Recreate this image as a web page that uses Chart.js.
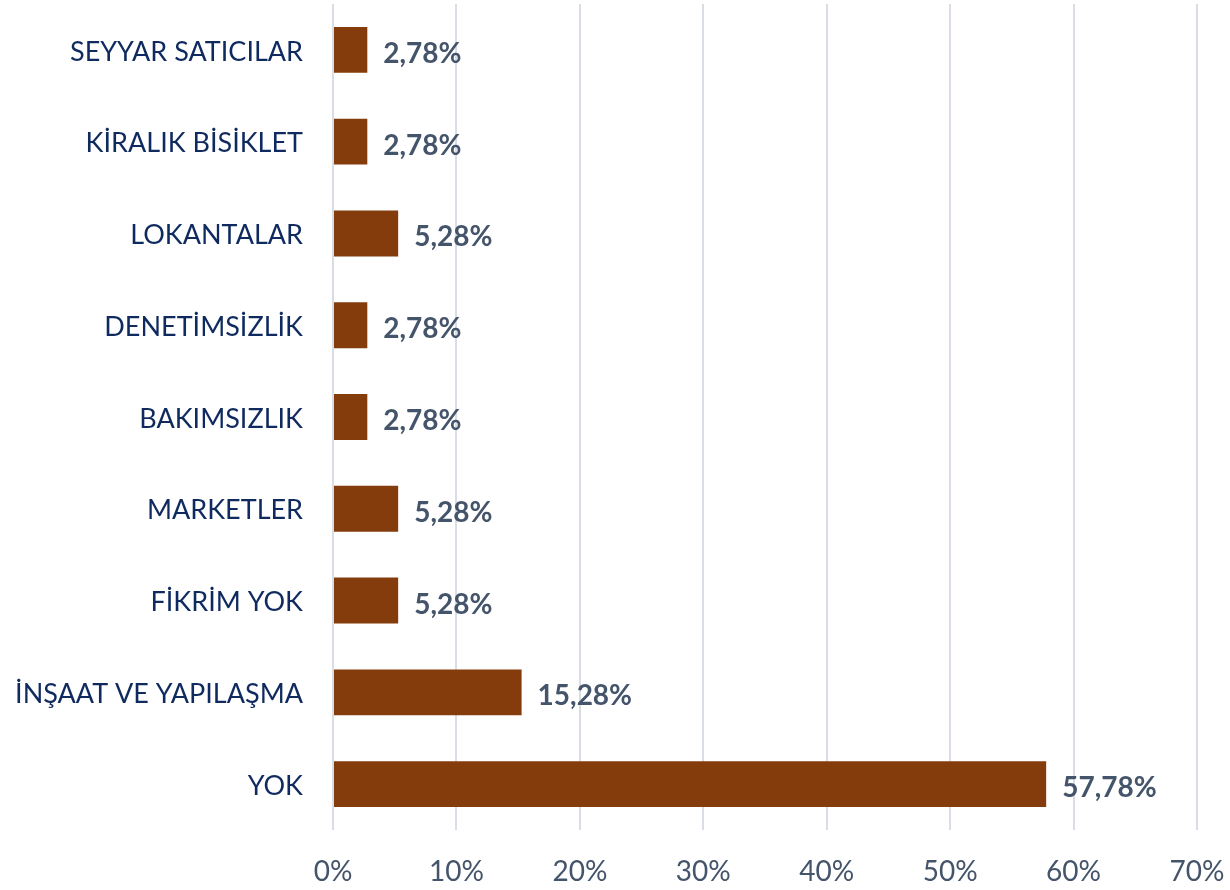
<!DOCTYPE html>
<html>
<head>
<meta charset="utf-8">
<script src="https://cdn.jsdelivr.net/npm/chart.js@4.4.1/dist/chart.umd.min.js"></script>
<style>
  html, body { margin: 0; padding: 0; background: #fff; }
  #wrap { width: 1230px; height: 890px; }
</style>
</head>
<body>
<div id="wrap"><canvas id="chart" width="1230" height="890"></canvas></div>
<script>
const categories = [
  'SEYYAR SATICILAR',
  'KİRALIK BİSİKLET',
  'LOKANTALAR',
  'DENETİMSİZLİK',
  'BAKIMSIZLIK',
  'MARKETLER',
  'FİKRİM YOK',
  'İNŞAAT VE YAPILAŞMA',
  'YOK'
];
const shares = [2.78, 2.78, 5.28, 2.78, 2.78, 5.28, 5.28, 15.28, 57.78];
const xTicks = [0, 10, 20, 30, 40, 50, 60, 70];

const fontFamily = 'Lato, "Open Sans", sans-serif';

// value labels drawn next to each bar
const barLabels = {
  id: 'barLabels',
  afterDatasetsDraw(chart) {
    const ctx = chart.ctx;
    const meta = chart.getDatasetMeta(0);
    ctx.save();
    ctx.font = 'bold 28px ' + fontFamily;
    ctx.fillStyle = '#44546a';
    ctx.textAlign = 'left';
    ctx.textBaseline = 'middle';
    meta.data.forEach((bar, i) => {
      const txt = shares[i].toFixed(2).replace('.', ',') + '%';
      ctx.fillText(txt, bar.x + 16, bar.y + 4);
    });
    ctx.restore();
  }
};

new Chart(document.getElementById('chart').getContext('2d'), {
  type: 'bar',
  data: {
    labels: categories,
    datasets: [{
      data: shares,
      backgroundColor: '#843c0c',
      borderWidth: 0,
      categoryPercentage: 1,
      barPercentage: 0.5
    }]
  },
  options: {
    indexAxis: 'y',
    responsive: false,
    animation: false,
    layout: { padding: { top: 4, right: 33, bottom: 0, left: 0 } },
    plugins: {
      legend: { display: false },
      tooltip: { enabled: false }
    },
    scales: {
      x: {
        min: 0,
        max: 70,
        afterBuildTicks: s => { s.ticks = xTicks.map(v => ({ value: v })); },
        afterFit: s => { s.height = 60; s.paddingLeft = 0; s.paddingRight = 0; },
        grid: { color: '#d9dee6', lineWidth: 2, drawTicks: false },
        border: { display: false },
        ticks: {
          padding: 25,
          color: '#44546a',
          font: { family: fontFamily, size: 28 },
          callback: v => v + '%'
        }
      },
      y: {
        afterFit: s => { s.width = 333; s.paddingTop = 0; s.paddingBottom = 0; },
        grid: { display: false, drawTicks: false },
        border: { display: false },
        ticks: {
          padding: 30,
          labelOffset: 2,
          color: '#0f2a5f',
          font: { family: fontFamily, size: 27 }
        }
      }
    }
  },
  plugins: [barLabels]
});
</script>
</body>
</html>
